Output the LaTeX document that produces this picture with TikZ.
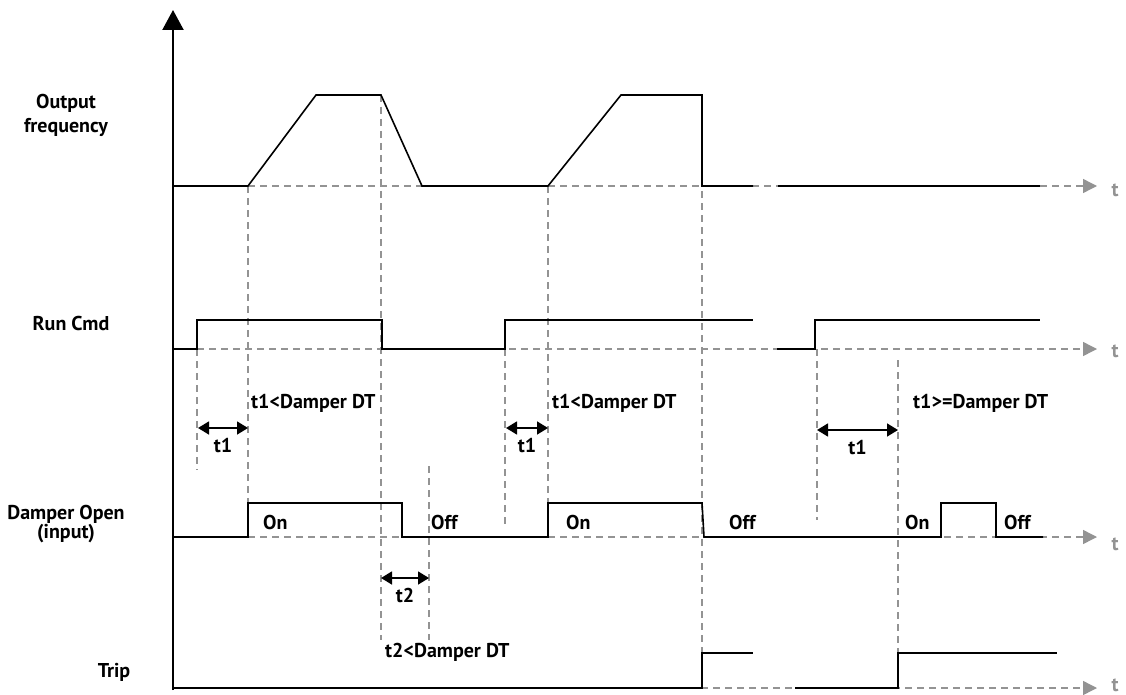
\documentclass[tikz,border=0pt]{standalone}
\usepackage{fontspec}
\setmainfont{PT Sans}
\usetikzlibrary{arrows.meta}

\begin{document}
\begin{tikzpicture}[x=1pt, y=-1pt,
	sig/.style={line width=1.6pt, black},
	guide/.style={line width=1.4pt, gray!85, dash pattern=on 7pt off 5pt},
	taxis/.style={guide, -{Triangle[length=14pt, width=14pt]}},
	span/.style={line width=1.6pt, {Triangle[length=11pt, width=13pt]}-{Triangle[length=11pt, width=13pt]}},
	lbl/.style={font=\fontsize{20}{22}\selectfont\bfseries, inner sep=0pt, align=center}]
	\useasboundingbox (0,0) rectangle (1126,695);

	%axis
	\draw[line width=2.2pt, -{Triangle[length=20pt, width=21pt]}] (173,690)--(173,10);

	%time axes
	\draw[taxis] (248,186)--(1097,186) node[lbl, right=14pt, yshift=-4pt] (tfreq) {t};
	\draw[taxis] (197,349)--(1097,349) node[lbl, right=14pt, yshift=-2pt] (trun) {t};
	\draw[taxis] (248,537)--(1097,537) node[lbl, right=14pt, yshift=-7pt] (tdmp) {t};
	\draw[taxis] (173,688)--(1097,688) node[lbl, right=14pt, yshift=3pt] (ttrip) {t};

	%guides
	\draw[guide] (197,349)--(197,470);
	\draw[guide] (248,186)--(248,537);
	\draw[guide] (381,95)--(381,640);
	\draw[guide] (429,466)--(429,640);
	\draw[guide] (505,349)--(505,525);
	\draw[guide] (548,186)--(548,537);
	\draw[guide] (702,95)--(702,688);
	\draw[guide] (817,349)--(817,520);
	\draw[guide] (898,360)--(898,688);

	%signals
	\draw[sig] (173,186)--(248,186)--(316,95)--(381,95)--(422,186)--(548,186)--(621,95)--(702,95)--(702,186)--(753,186);
	\draw[sig] (778,186)--(1040,186);
	\draw[sig] (173,349)--(197,349)--(197,320)--(382,320)--(382,349)--(505,349)--(505,320)--(753,320);
	\draw[sig] (777,349)--(815,349)--(815,320)--(1040,320);
	\draw[sig] (173,537)--(248,537)--(248,503)--(402,503)--(402,537)--(548,537)--(548,503)--(702,503)--(704,537)--(941,537)--(941,503)--(996,503)--(996,537)--(1043,537);
	\draw[sig] (173,688)--(702,688)--(702,653)--(753,653);
	\draw[sig] (795,688)--(898,688)--(898,653)--(1057,653);

	%row names
	\node[lbl, font=\fontsize{20}{24}\selectfont\bfseries] (freq) at (66,115) {Output\\frequency};
	\node[lbl] (run) at (71,323) {Run Cmd};
	\node[lbl, font=\fontsize{20}{19}\selectfont\bfseries] (dmp) at (66,524) {Damper Open\\(input)};
	\node[lbl] (trip) at (114,672) {Trip};

	%states
	\node[lbl, anchor=west] (on1) at (263,522) {On};
	\node[lbl, anchor=west] (off1) at (431,522) {Off};
	\node[lbl, anchor=west] (on2) at (566,522) {On};
	\node[lbl, anchor=west] (off2) at (729,522) {Off};
	\node[lbl, anchor=west] (on3) at (905,522) {On};
	\node[lbl, anchor=west] (off3) at (1004,522) {Off};

	%delays
	\draw[span] (198,428)--(248,428) node[lbl, midway, below=9pt] (d1) {t1};
	\draw[span] (506,428)--(548,428) node[lbl, midway, below=9pt] (d2) {t1};
	\draw[span] (817,430)--(898,430) node[lbl, midway, below=9pt] (d3) {t1};
	\draw[span] (381,578)--(429,578) node[lbl, midway, below=9pt] (d4) {t2};
	\node[lbl, anchor=west] (c1) at (251,403) {t1<Damper DT};
	\node[lbl, anchor=west] (c2) at (552,403) {t1<Damper DT};
	\node[lbl, anchor=west] (c3) at (913,403) {t1>=Damper DT};
	\node[lbl, anchor=west] (c4) at (385,652) {t2<Damper DT};
\end{tikzpicture}
\end{document}
